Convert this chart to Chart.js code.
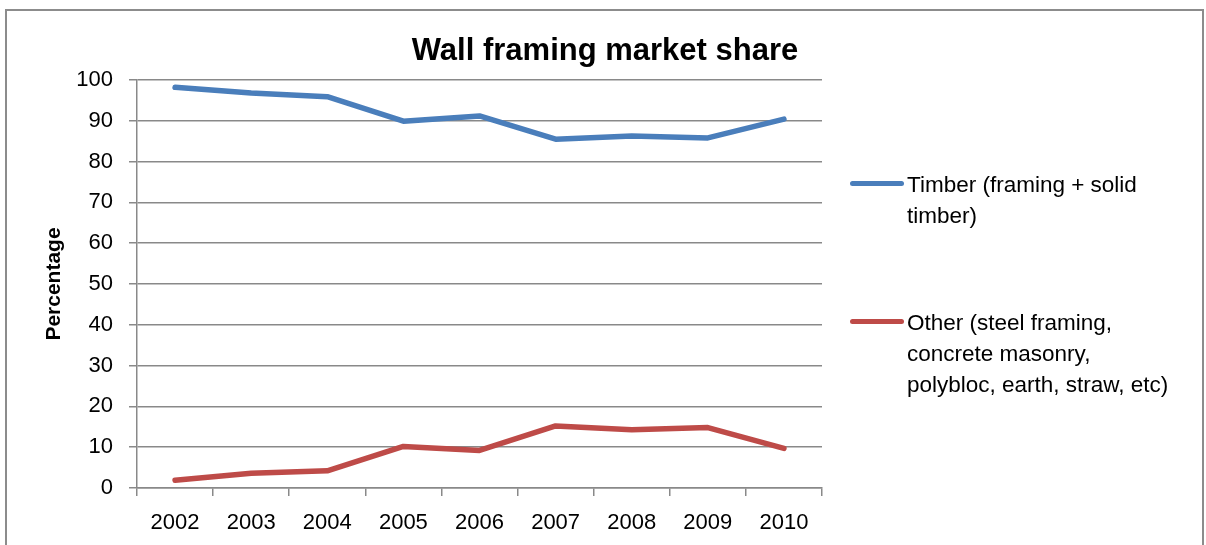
<!DOCTYPE html>
<html>
<head>
<meta charset="utf-8">
<script src="https://cdn.jsdelivr.net/npm/chart.js@4/dist/chart.umd.min.js"></script>
<style>
  html, body { margin: 0; padding: 0; background: #fff; overflow: hidden; }
  body { width: 1206px; height: 545px; position: relative; font-family: "Liberation Sans", Arial, sans-serif; }
  #frame { position: absolute; left: 5px; top: 9px; width: 1199px; height: 600px; border: 2px solid #8c8c8c; box-sizing: border-box; }
  #wrap { position: absolute; left: 0; top: 0; width: 1206px; height: 545px; }
  #title { position: absolute; left: 0; width: 1210px; top: 32px; text-align: center; font-weight: bold; font-size: 31px; line-height: 36px; color: #000; }
  .legend-item { position: absolute; left: 907px; font-size: 22.5px; line-height: 31px; color: #000; }
  .legend-mark { position: absolute; left: -57px; width: 54px; height: 5px; border-radius: 3px; }
</style>
</head>
<body>
<div id="frame"></div>
<div id="wrap"><canvas id="chart" width="1206" height="545"></canvas></div>
<div id="title">Wall framing market share</div>
<div id="legend"></div>
<script>
// values
const years = ['2002', '2003', '2004', '2005', '2006', '2007', '2008', '2009', '2010'];
const timberShare = [98.2, 96.8, 95.9, 89.9, 91.2, 85.5, 86.3, 85.8, 90.4];
const otherShare = [1.9, 3.6, 4.2, 10.2, 9.2, 15.2, 14.3, 14.8, 9.7];
const timberLabel = ['Timber (framing + solid', 'timber)'];
const otherLabel = ['Other (steel framing,', 'concrete masonry,', 'polybloc, earth, straw, etc)'];

const gridColor = '#898989';
const font = 'Liberation Sans';

const series = [
  { lines: timberLabel, data: timberShare, color: '#4a7ebb', top: 169 },
  { lines: otherLabel, data: otherShare, color: '#be4b48', top: 307 }
];

new Chart('chart', {
  type: 'line',
  data: {
    labels: years,
    datasets: series.map(s => ({
      label: s.lines.join(' '),
      data: s.data,
      borderColor: s.color,
      backgroundColor: s.color,
      borderWidth: 5.5,
      borderCapStyle: 'round',
      borderJoinStyle: 'round',
      pointRadius: 0,
      tension: 0
    }))
  },
  options: {
    responsive: false,
    animation: false,
    layout: { padding: { left: 42, right: 384, top: 80, bottom: 0 } },
    plugins: {
      legend: { display: false },
      title: { display: false },
      tooltip: { enabled: false }
    },
    scales: {
      x: {
        offset: true,
        afterFit: function (scale) { scale.height = 57; },
        grid: {
          offset: true,
          drawOnChartArea: false,
          drawTicks: true,
          tickLength: 8,
          color: gridColor,
          lineWidth: 1.5
        },
        border: { display: true, color: gridColor, width: 1.5 },
        ticks: {
          color: '#000',
          padding: 14,
          maxRotation: 0,
          font: { family: font, size: 22 }
        }
      },
      y: {
        min: 0,
        max: 100,
        afterFit: function (scale) { scale.width = 95; },
        grid: {
          color: gridColor,
          lineWidth: 1.5,
          tickLength: 8
        },
        border: { display: true, color: gridColor, width: 1.5 },
        ticks: {
          stepSize: 10,
          color: '#000',
          padding: 16,
          font: { family: font, size: 22 }
        },
        title: {
          display: true,
          text: 'Percentage',
          color: '#000',
          padding: 0,
          font: { family: font, size: 21, weight: 'bold' }
        }
      }
    }
  }
});

// legend as real text beside the plot
const legend = document.getElementById('legend');
series.forEach(s => {
  const item = document.createElement('div');
  item.className = 'legend-item';
  item.style.top = s.top + 'px';
  const mark = document.createElement('div');
  mark.className = 'legend-mark';
  mark.style.background = s.color;
  mark.style.top = '12px';
  item.appendChild(mark);
  s.lines.forEach((t, i) => {
    if (i) item.appendChild(document.createElement('br'));
    item.appendChild(document.createTextNode(t));
  });
  legend.appendChild(item);
});
</script>
</body>
</html>
